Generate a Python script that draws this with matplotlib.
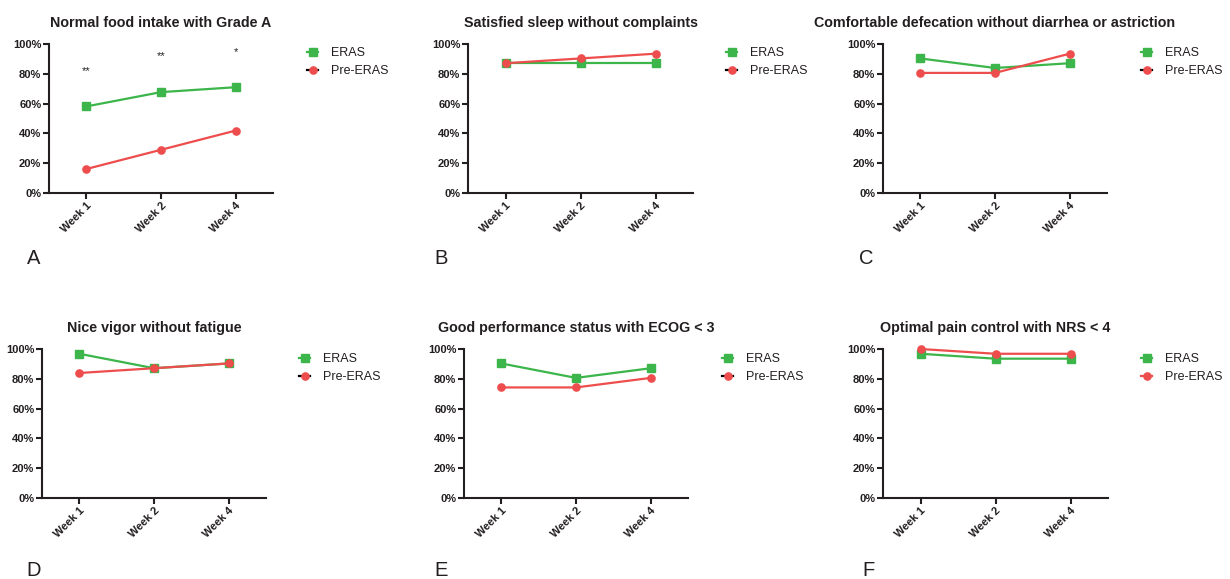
import numpy as np
import matplotlib
matplotlib.use("Agg")
import matplotlib.pyplot as plt
from matplotlib.lines import Line2D

plt.rcParams['font.family'] = ['Liberation Sans', 'DejaVu Sans']

W, H = 1230, 579

weeks = ["Week 1", "Week 2", "Week 4"]

titles = [
    "Normal food intake with Grade A",
    "Satisfied sleep without complaints",
    "Comfortable defecation without diarrhea or astriction",
    "Nice vigor without fatigue",
    "Good performance status with ECOG < 3",
    "Optimal pain control with NRS < 4",
]
letters = ["A", "B", "C", "D", "E", "F"]

# percentages (n = 31 per group)
eras_a = [58.1, 67.7, 71.0]
pre_a = [16.1, 29.0, 41.9]
eras_b = [87.1, 87.1, 87.1]
pre_b = [87.1, 90.3, 93.5]
eras_c = [90.3, 83.9, 87.1]
pre_c = [80.6, 80.6, 93.5]
eras_d = [96.8, 87.1, 90.3]
pre_d = [83.9, 87.1, 90.3]
eras_e = [90.3, 80.6, 87.1]
pre_e = [74.2, 74.2, 80.6]
eras_f = [96.8, 93.5, 93.5]
pre_f = [100.0, 96.8, 96.8]

eras_all = [eras_a, eras_b, eras_c, eras_d, eras_e, eras_f]
pre_all = [pre_a, pre_b, pre_c, pre_d, pre_e, pre_f]

# significance marks on panel A
sig_marks = ["**", "**", "*"]
sig_y = [82, 92, 94.5]

GREEN = "#3cb54a"
RED = "#ee4d4d"
DARK = "#231f20"

# axes boxes in pixels: left, right, top, bottom
boxes = [
    (49, 273, 44, 193),
    (468, 693, 44, 193),
    (883, 1107, 44, 193),
    (42, 266, 349, 498),
    (464, 688, 349, 498),
    (883, 1108, 349, 498),
]
legend_pos = [(307, 47), (726, 47), (1141, 47), (299, 353), (722, 353), (1141, 353)]
letter_pos = [(27, 258), (434, 258), (859, 258), (26, 571), (434, 571), (862, 571)]

fig = plt.figure(figsize=(W / 100, H / 100), dpi=100)

for i in range(6):
    l, r, t, b = boxes[i]
    ax = fig.add_axes([l / W, (H - b) / H, (r - l) / W, (b - t) / H])
    x = np.arange(len(weeks))
    ax.plot(x, eras_all[i], color=GREEN, lw=1.6, marker="s", ms=5.2, clip_on=False, zorder=3)
    ax.plot(x, pre_all[i], color=RED, lw=1.6, marker="o", ms=5.2, clip_on=False, zorder=3)
    ax.set_xlim(-0.5, 2.5)
    ax.set_ylim(0, 100)
    ax.set_yticks([0, 20, 40, 60, 80, 100])
    ax.set_yticklabels([f"{v}%" for v in range(0, 101, 20)], fontsize=8, fontweight="bold", color=DARK)
    ax.set_xticks(x)
    ax.set_xticklabels(weeks, rotation=45, ha="right", va="top", rotation_mode="anchor",
                       fontsize=8, fontweight="bold", color=DARK)
    for s in ["top", "right"]:
        ax.spines[s].set_visible(False)
    for s in ["left", "bottom"]:
        ax.spines[s].set_linewidth(1.5)
        ax.spines[s].set_color(DARK)
    ax.tick_params(axis="both", length=4, width=1.5, color=DARK, pad=1.5)
    ax.set_title(titles[i], fontsize=10.3, fontweight="bold", color=DARK, pad=12)

    if i == 0:
        for k in range(3):
            ax.text(x[k], sig_y[k], sig_marks[k], ha="center", va="center", fontsize=8, color=DARK)

    pre_line = RED if i == 5 else "black"
    handles = [
        Line2D([], [], color=GREEN, lw=1.6, marker="s", ms=5.2),
        Line2D([], [], color=pre_line, lw=1.6, marker="o", ms=5.2, markerfacecolor=RED, markeredgecolor=RED),
    ]
    lx, ly = legend_pos[i]
    fig.legend(handles, ["ERAS", "Pre-ERAS"], loc="upper left",
               bbox_to_anchor=(lx / W, 1 - ly / H), bbox_transform=fig.transFigure,
               frameon=False, fontsize=9, handlelength=0.9, handletextpad=1.0,
               borderpad=0, borderaxespad=0, labelspacing=0.5, labelcolor=DARK)

    px, py = letter_pos[i]
    fig.text(px / W, 1 - py / H, letters[i], fontsize=14.5, color=DARK, va="center", ha="left")

fig.savefig("out.png", dpi=100)
